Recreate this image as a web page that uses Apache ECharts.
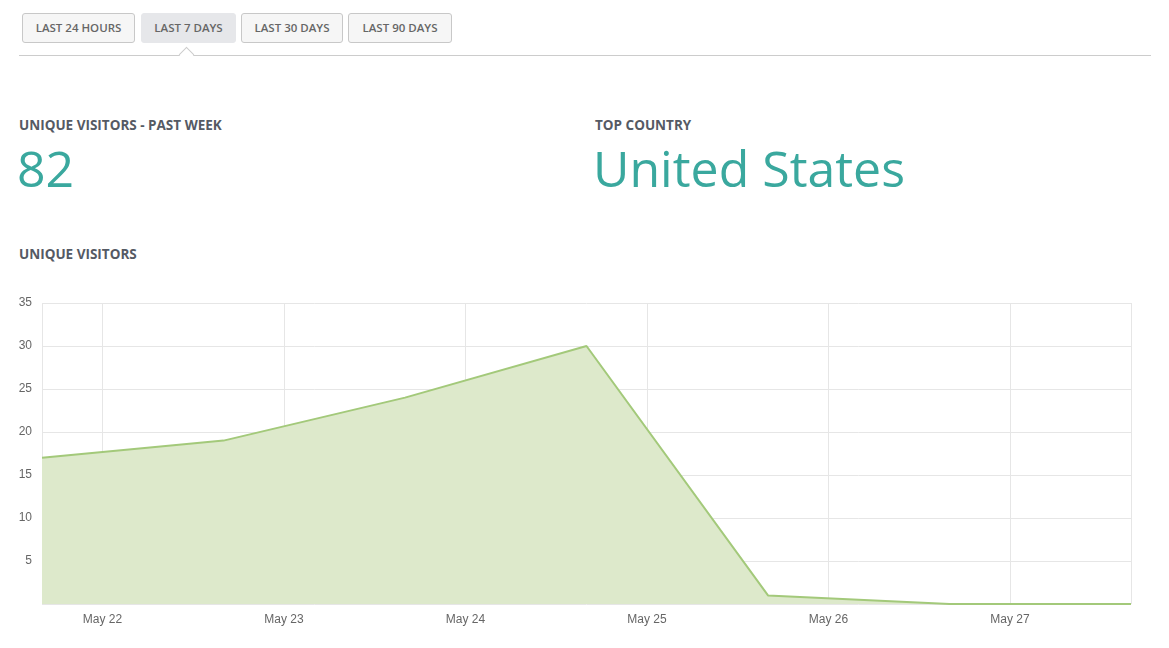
<!DOCTYPE html>
<html>
<head>
<meta charset="utf-8">
<script src="https://cdn.jsdelivr.net/npm/echarts@6/dist/echarts.min.js"></script>
<style>
body { margin:0; width:1169px; height:648px; background:#fff; font-family:"Open Sans", sans-serif; position:relative; overflow:hidden; }
.btn { position:absolute; top:13px; height:28px; line-height:28px; border:1px solid #c8c8c8; border-radius:3px; background:#f6f6f6; color:#666; font-size:11.5px; font-weight:600; text-align:center; }
.btn.active { background:#e6e7ea; border-color:#e6e7ea; }
.rule { position:absolute; top:55px; left:19px; width:1132px; border-top:1px solid #ccc; }
.caret { position:absolute; top:49px; left:181px; width:10px; height:10px; background:#fff; border-left:1px solid #ccc; border-top:1px solid #ccc; transform:rotate(45deg); }
.lbl { position:absolute; font-size:13.5px; font-weight:700; color:#555a64; }
.big { position:absolute; color:#3aa89e; font-size:50px; font-weight:400; }
#chart { position:absolute; left:0; top:290px; width:1169px; height:350px; }
</style>
</head>
<body>
<div class="btn" style="left:22px;width:111px">LAST 24 HOURS</div>
<div class="btn active" style="left:141px;width:93px">LAST 7 DAYS</div>
<div class="btn" style="left:241px;width:100px">LAST 30 DAYS</div>
<div class="btn" style="left:348px;width:102px">LAST 90 DAYS</div>
<div class="rule"></div>
<div class="caret"></div>
<div class="lbl" style="left:19px;top:116px">UNIQUE VISITORS - PAST WEEK</div>
<div class="big" style="left:17px;top:134px">82</div>
<div class="lbl" style="left:595px;top:116px">TOP COUNTRY</div>
<div class="big" style="left:593px;top:134px">United States</div>
<div class="lbl" style="left:19px;top:245px">UNIQUE VISITORS</div>
<div id="chart"></div>
<script>
// Unique visitors per day (timestamps start May 21, 16:00)
var times = ['2024-05-21T16:00:00', '2024-05-22T16:00:00', '2024-05-23T16:00:00', '2024-05-24T16:00:00',
             '2024-05-25T16:00:00', '2024-05-26T16:00:00', '2024-05-27T16:00:00'];
var visitors = [17, 19, 24, 30, 1, 0, 0];

var chart = echarts.init(document.getElementById('chart'));
var option = {
    animation: false,
    grid: { left: 42, right: 38, top: 13, bottom: 36 },
    xAxis: {
        type: 'time',
        min: new Date(times[0]).getTime(),
        max: new Date(times[times.length - 1]).getTime(),
        splitNumber: 6,
        axisLine: { show: false },
        axisTick: { show: false },
        axisLabel: {
            color: '#666', fontSize: 12, margin: 10,
            formatter: '{MMM} {d}',
            showMinLabel: false, showMaxLabel: false
        },
        splitLine: { show: true, lineStyle: { color: '#e6e6e6' } }
    },
    yAxis: {
        type: 'value',
        min: 0, max: 35, interval: 5,
        axisLine: { show: false },
        axisTick: { show: false },
        axisLabel: {
            color: '#666', fontSize: 12, margin: 10,
            formatter: function (v) { return v === 0 ? '' : v; }
        },
        splitLine: { lineStyle: { color: '#e6e6e6' } }
    },
    series: [{
        type: 'line',
        data: times.map(function (t, i) { return [t, visitors[i]]; }),
        symbol: 'none',
        lineStyle: { color: '#a3c97a', width: 2 },
        areaStyle: { color: '#dde9cb', opacity: 1 }
    }]
};
chart.setOption(option);
</script>
</body>
</html>
